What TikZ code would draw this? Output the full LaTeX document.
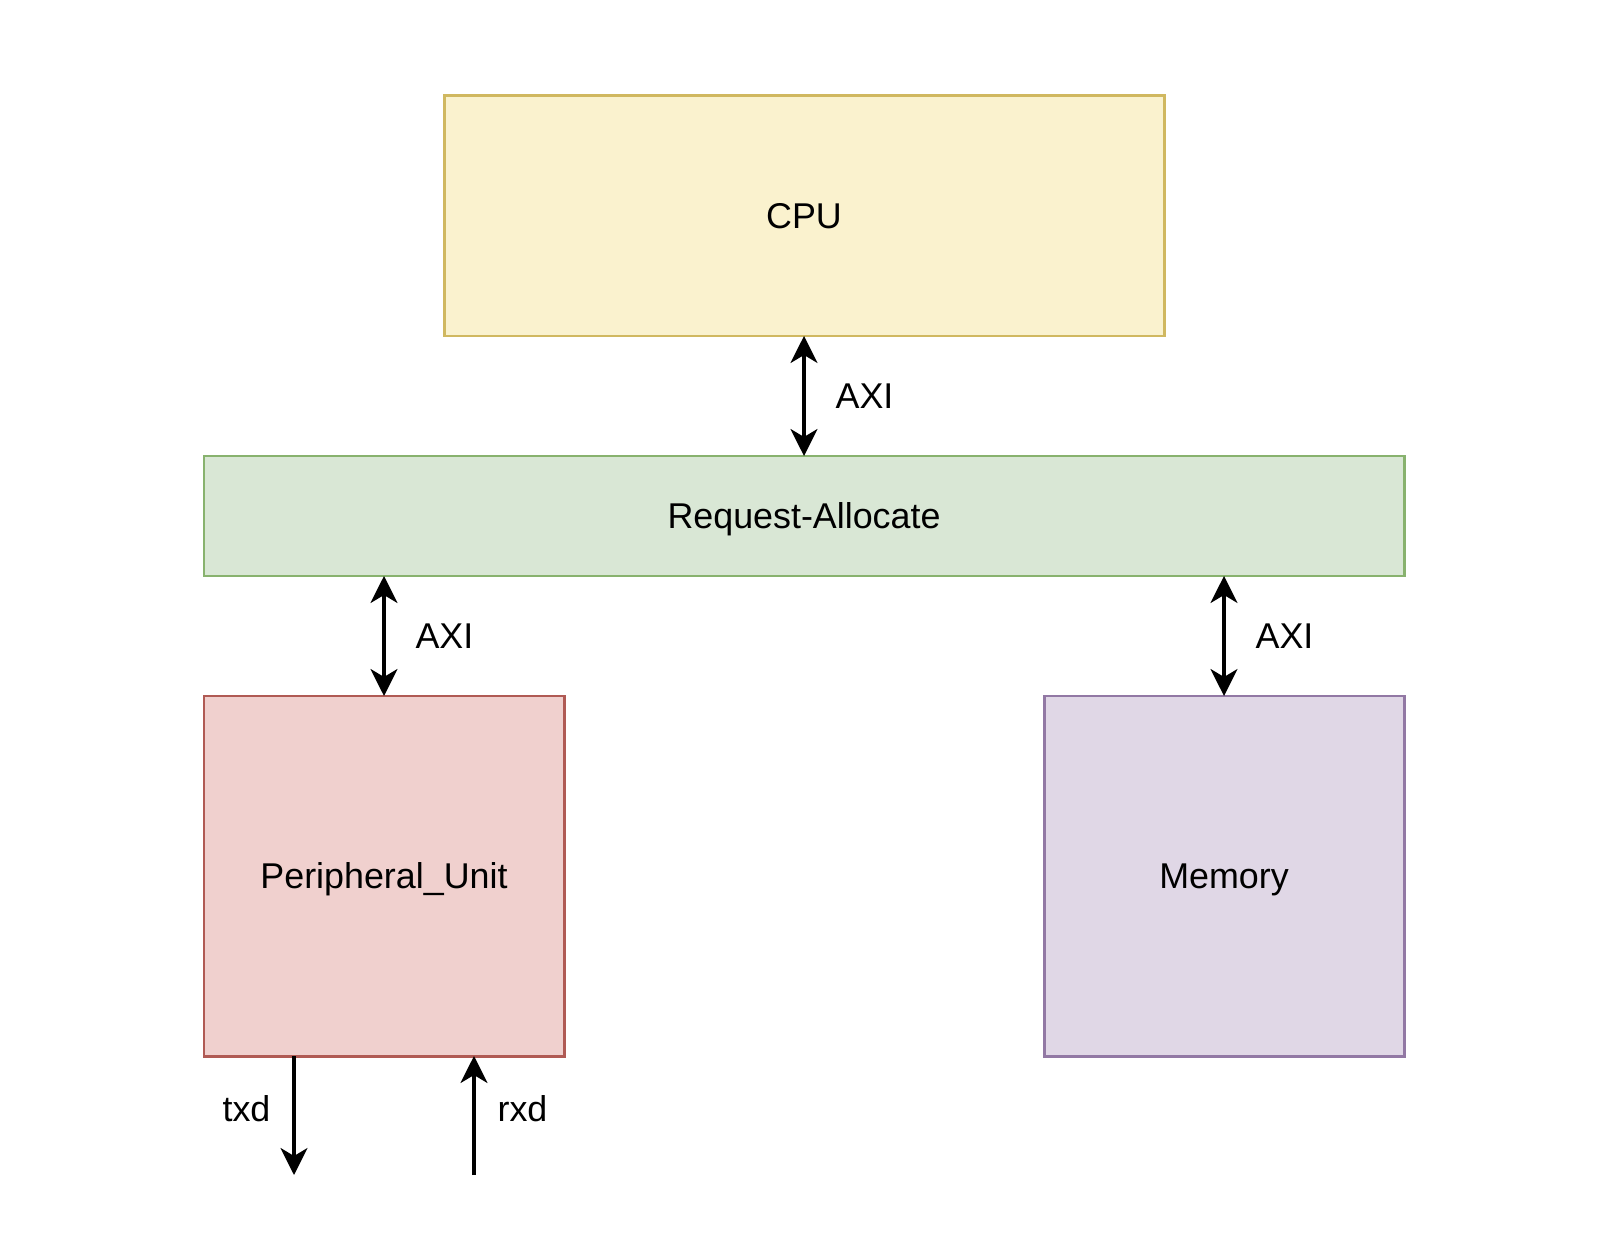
\documentclass[tikz,border=0pt]{standalone}
\usepackage{fontspec}
\setmainfont{Liberation Sans}
\usepackage{tikz}
\usetikzlibrary{arrows.meta,positioning,calc}
\definecolor{cpuFill}{HTML}{FAF2CE}
\definecolor{cpuLine}{HTML}{D0B860}
\definecolor{busFill}{HTML}{D9E7D5}
\definecolor{busLine}{HTML}{88B26E}
\definecolor{perFill}{HTML}{F0D0CE}
\definecolor{perLine}{HTML}{B05A54}
\definecolor{memFill}{HTML}{E0D7E6}
\definecolor{memLine}{HTML}{9278A4}

\begin{document}
\begin{tikzpicture}[
  font=\fontsize{10.2}{12}\selectfont,
  blk/.style={draw, line width=.85pt, inner sep=0pt, outer sep=0pt, align=center,
    text height=7.3pt, text depth=0pt},
  link/.style={{Stealth[length=2.7mm, width=2.7mm, inset=.8mm]}-{Stealth[length=2.7mm, width=2.7mm, inset=.8mm]}, line width=.9pt},
  sig/.style={-{Stealth[length=2.7mm, width=2.7mm, inset=.8mm]}, line width=.9pt},
  lbl/.style={inner sep=0pt}
]
  \useasboundingbox (0,0) rectangle (16.14,-12.45);
  \node[blk,draw=cpuLine,fill=cpuFill,minimum width=7.2cm,minimum height=2.4cm] (cpu) at (8.04,-2.16) {CPU};
  \node[blk,draw=busLine,fill=busFill,minimum width=12cm,minimum height=1.2cm,below=1.2cm of cpu] (ra) {Request-Allocate};
  \node[blk,draw=perLine,fill=perFill,minimum width=3.6cm,minimum height=3.6cm,below=1.2cm of ra.south west,anchor=north west] (pu) {Peripheral\_Unit};
  \node[blk,draw=memLine,fill=memFill,minimum width=3.6cm,minimum height=3.6cm,below=1.2cm of ra.south east,anchor=north east] (mem) {Memory};
  \coordinate (txdout) at ($(pu.south west)+(0.9,-1.19)$);
  \coordinate (rxdin) at ($(pu.south west)+(2.7,-1.19)$);
  % buses
  \draw[link] (cpu.south) -- node[lbl,midway,right=0.30cm] {AXI} (ra.north);
  \draw[link] (ra.south -| pu.north) -- node[lbl,midway,right=0.30cm] {AXI} (pu.north);
  \draw[link] (ra.south -| mem.north) -- node[lbl,midway,right=0.30cm] {AXI} (mem.north);
  % serial lines
  \draw[sig] (pu.south -| txdout) -- node[lbl,pos=.44,left=0.22cm] {txd} (txdout);
  \draw[sig] (rxdin) -- node[lbl,pos=.56,right=0.22cm] {rxd} (pu.south -| rxdin);
\end{tikzpicture}
\end{document}
